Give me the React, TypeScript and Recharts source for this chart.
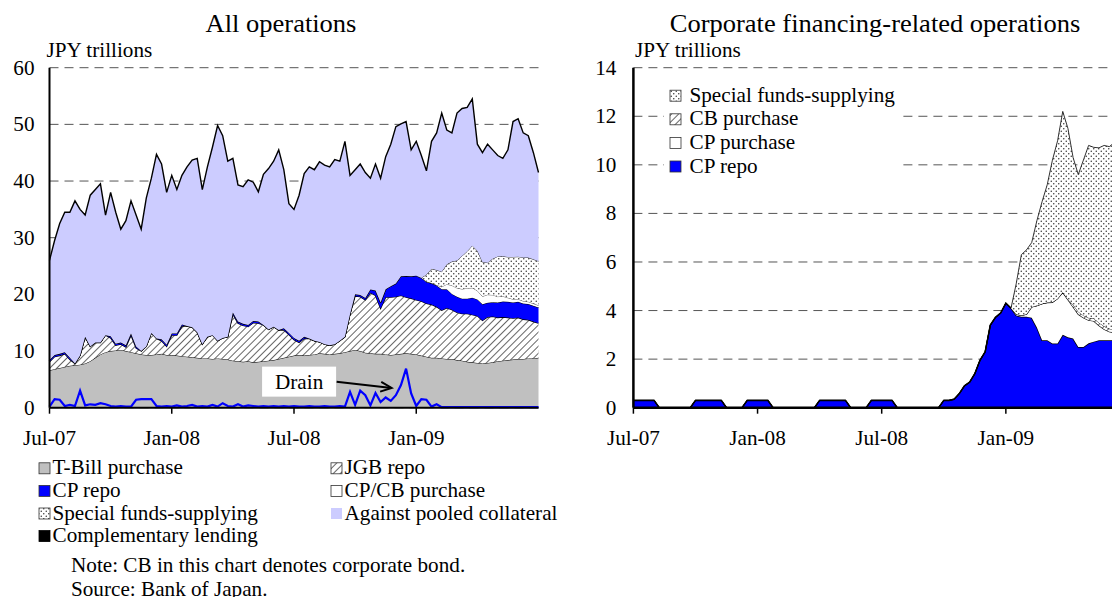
import {
  Area,
  ComposedChart,
  CartesianGrid,
  Line,
  ReferenceDot,
  ReferenceLine,
  XAxis,
  YAxis,
} from "recharts";

const SERIF = '"Liberation Serif", "Times New Roman", Times, serif';
const SX = 1.06; // the source figure is slightly stretched horizontally
const FS = 20;
const STEP = 0.25; // months between samples (roughly weekly), 0 = Jul-07

const xTicks = [0, 6, 12, 18];
const xTickLabels = ["Jul-07", "Jan-08", "Jul-08", "Jan-09"];
const leftYTicks = [0, 10, 20, 30, 40, 50, 60];
const rightYTicks = [0, 2, 4, 6, 8, 10, 12, 14];

// JPY trillions, weekly-ish readings Jul-07 .. Jul-09
const tBill = [
  6.6, 6.8, 7.0, 7.2, 7.4, 7.5, 7.6, 7.8, 8.2, 8.8, 9.4, 9.8, 10.0,
  10.1, 10.2, 10.0, 9.8, 9.6, 9.4, 9.3, 9.3, 9.4, 9.5, 9.3, 9.3,
  9.2, 9.1, 9.0, 8.9, 8.8, 8.7, 8.7, 8.6, 8.7, 8.6, 8.5, 8.3,
  8.2, 8.1, 8.2, 8.0, 8.1, 8.2, 8.3, 8.4, 8.6, 8.8, 9.0, 9.2,
  9.3, 9.2, 9.3, 9.4, 9.6, 9.5, 9.4, 9.5, 9.6, 9.8, 10.0, 10.2,
  10.0, 9.7, 9.6, 9.5, 9.5, 9.4, 9.3, 9.4, 9.5, 9.6, 9.5, 9.4,
  9.2, 9.0, 8.8, 8.8, 8.7, 8.6, 8.6, 8.4, 8.3, 8.1, 8.0, 7.9,
  7.8, 7.9, 8.0, 8.2, 8.3, 8.4, 8.5, 8.6, 8.6, 8.7, 8.7, 8.8,
];

const jgbRepo = [
  1.5, 2.2, 2.2, 2.3, 1.1, 0.3, 1.6, 4.7, 2.6, 2.7, 2.1, 3.0, 2.3,
  0.9, 1.0, 0.7, 3.0, 0.9, 0.6, 1.5, 3.9, 2.8, 2.3, 1.5, 3.5,
  3.6, 5.3, 5.4, 5.3, 4.5, 2.5, 3.8, 4.2, 3.1, 3.7, 4.0, 8.2,
  6.7, 6.4, 6.1, 7.0, 6.8, 6.4, 5.5, 5.9, 5.1, 4.9, 3.9, 2.8,
  2.2, 3.0, 2.9, 2.4, 2.0, 1.7, 1.6, 1.7, 2.2, 2.7, 6.5, 9.5,
  9.6, 9.3, 10.7, 10.3, 8.0, 10.1, 10.2, 10.2, 10.3, 9.9, 9.8, 9.6,
  9.6, 9.4, 9.4, 9.0, 8.5, 9.0, 8.7, 8.4, 8.3, 8.5, 8.4, 8.3,
  7.6, 8.1, 8.1, 7.7, 7.7, 7.5, 7.3, 7.3, 7.0, 6.8, 6.5, 6.1,
];

const cpRepo = [
  0.3, 0.3, 0.3, 0.3, 0.3, 0, 0, 0, 0, 0, 0, 0, 0.3,
  0.3, 0.3, 0.3, 0.3, 0.3, 0, 0, 0, 0, 0.3, 0.3, 0.3,
  0.3, 0.3, 0, 0, 0, 0, 0, 0, 0, 0, 0, 0.3,
  0.3, 0.3, 0.3, 0.3, 0.3, 0, 0, 0, 0, 0.3, 0.3, 0.3,
  0.3, 0.3, 0, 0, 0, 0, 0, 0, 0, 0, 0, 0.3,
  0.3, 0.35, 0.58, 0.9, 1.05, 1.4, 1.95, 2.3, 3.4, 3.72, 3.9, 4.3,
  4.1, 3.8, 3.75, 3.75, 3.7, 3.3, 2.78, 2.78, 2.64, 2.64, 3.0, 2.9,
  2.85, 2.5, 2.5, 2.65, 2.72, 2.78, 2.78, 2.78, 2.78, 2.78, 2.78, 2.78,
];

const cpPurchase = [
  0, 0, 0, 0, 0, 0, 0, 0, 0, 0, 0, 0, 0,
  0, 0, 0, 0, 0, 0, 0, 0, 0, 0, 0, 0,
  0, 0, 0, 0, 0, 0, 0, 0, 0, 0, 0, 0,
  0, 0, 0, 0, 0, 0, 0, 0, 0, 0, 0, 0,
  0, 0, 0, 0, 0, 0, 0, 0, 0, 0, 0, 0,
  0, 0, 0, 0, 0, 0, 0, 0, 0, 0, 0, 0,
  0, 0.05, 0.05, 0.1, 0.45, 0.9, 1.5, 1.55, 1.7, 1.85, 1.75, 1.55,
  1.3, 1.35, 1.2, 0.95, 0.85, 0.6, 0.45, 0.35, 0.32, 0.3, 0.28, 0.26,
];

const cbPurchase = [
  0, 0, 0, 0, 0, 0, 0, 0, 0, 0, 0, 0, 0,
  0, 0, 0, 0, 0, 0, 0, 0, 0, 0, 0, 0,
  0, 0, 0, 0, 0, 0, 0, 0, 0, 0, 0, 0,
  0, 0, 0, 0, 0, 0, 0, 0, 0, 0, 0, 0,
  0, 0, 0, 0, 0, 0, 0, 0, 0, 0, 0, 0,
  0, 0, 0, 0, 0, 0, 0, 0, 0, 0, 0, 0,
  0, 0, 0, 0, 0, 0, 0, 0, 0, 0, 0, 0,
  0.1, 0.1, 0.1, 0.1, 0.1, 0.12, 0.12, 0.12, 0.12, 0.12, 0.12, 0.12,
];

const specialFunds = [
  0, 0, 0, 0, 0, 0, 0, 0, 0, 0, 0, 0, 0,
  0, 0, 0, 0, 0, 0, 0, 0, 0, 0, 0, 0,
  0, 0, 0, 0, 0, 0, 0, 0, 0, 0, 0, 0,
  0, 0, 0, 0, 0, 0, 0, 0, 0, 0, 0, 0,
  0, 0, 0, 0, 0, 0, 0, 0, 0, 0, 0, 0,
  0, 0, 0, 0, 0, 0, 0, 0, 0, 0, 0, 0,
  0, 1.25, 2.5, 2.65, 2.65, 3.5, 4.2, 4.85, 5.85, 6.5, 7.45, 7.05,
  6.05, 5.65, 6.4, 7.1, 7.05, 7.2, 7.45, 7.5, 7.7, 7.8, 7.8, 7.8,
];

// total of all operations (top of the stack)
const totalOutstanding = [
  26, 29.5, 32.5, 34.5, 34.5, 36.5, 35, 34, 37.5, 38.5, 39.5, 34, 38,
  34.5, 31.5, 33, 36.5, 34, 31.5, 37, 40.5, 44.7, 43, 38, 41,
  38.5, 41, 42.5, 43.7, 44, 38.5, 42.5, 46, 49.8, 48, 43.5, 44,
  39.3, 39, 40.2, 39.8, 38.1, 41.2, 42.2, 43.5, 45.5, 42, 36, 35,
  37.5, 41.3, 42.5, 42, 43.4, 42.8, 42.5, 43.8, 43.5, 47, 41, 42,
  43, 41.5, 40.5, 43, 40.5, 44.3, 46.5, 49.6, 50.1, 50.5, 45.5, 47,
  44.5, 41.8, 47, 48.5, 52, 49, 48.5, 52, 52.8, 53, 54.5, 46.5,
  45, 46.5, 45.5, 44.5, 44, 45.5, 50.5, 51, 48.5, 48, 45, 41.5,
];

// fund-absorbing ("drain") line
const drain = [
  0.2, 1.5, 1.4, 0.3, 0.5, 0.3, 3.0, 0.4, 0.6, 0.5, 0.8, 0.6, 0.3,
  0.2, 0.3, 0.2, 0.2, 1.4, 1.5, 1.5, 1.5, 0.3, 0.2, 0.3, 0.2,
  0.4, 0.2, 0.3, 0.5, 0.2, 0.3, 0.2, 0.5, 0.2, 0.8, 0.3, 0.2,
  0.6, 0.2, 0.4, 0.3, 0.2, 0.3, 0.2, 0.3, 0.2, 0.3, 0.2, 0.3,
  0.2, 0.2, 0.3, 0.2, 0.2, 0.3, 0.2, 0.2, 0.3, 0.2, 2.8, 0.5,
  3.0, 2.2, 0.4, 2.6, 1.0, 1.8, 1.2, 2.2, 4.0, 6.9, 2.5, 0.3,
  1.5, 1.4, 0.2, 0.6, 0.1, 0.1, 0.1, 0.1, 0.1, 0.1, 0.1, 0.1,
  0.1, 0.1, 0.1, 0.1, 0.1, 0.1, 0.1, 0.1, 0.1, 0.1, 0.1, 0.1,
];

const drainLabelAt = { x: 12.25, y: 4.6 };
const drainArrow = [
  { x: 14.09, y: 4.59 },
  { x: 16.79, y: 3.48 },
];

const rows = tBill.map((v, i) => {
  const cpcb = cpPurchase[i] + cbPurchase[i];
  const below = v + jgbRepo[i] + cpRepo[i] + cpcb + specialFunds[i];
  return {
    m: i * STEP,
    tBill: v,
    jgbRepo: jgbRepo[i],
    cpRepo: cpRepo[i],
    cpcb,
    cpPurchase: cpPurchase[i],
    cbPurchase: cbPurchase[i],
    special: specialFunds[i],
    pooled: Math.max(0, totalOutstanding[i] - below),
    drain: drain[i],
  };
});

const leftLegend = [
  { label: "T-Bill purchase", fill: "#c0c0c0", stroke: "#333" },
  { label: "JGB repo", fill: "url(#hatch)", stroke: "#333" },
  { label: "CP repo", fill: "#0000ff", stroke: "#333" },
  { label: "CP/CB purchase", fill: "#ffffff", stroke: "#333" },
  { label: "Special funds-supplying", fill: "url(#dots)", stroke: "#333" },
  { label: "Against pooled collateral", fill: "#ccccff", stroke: "none" },
  { label: "Complementary lending", fill: "#000000", stroke: "#000" },
];

const rightLegend = [
  { label: "Special funds-supplying", fill: "url(#dots)", stroke: "#333" },
  { label: "CB purchase", fill: "url(#hatch)", stroke: "#333" },
  { label: "CP purchase", fill: "#ffffff", stroke: "#333" },
  { label: "CP repo", fill: "#0000ff", stroke: "#333" },
];

function SText({ x, y, size = FS, anchor = "start", children }: any) {
  return (
    <text
      transform={`translate(${x},${y}) scale(${SX},1)`}
      textAnchor={anchor}
      fontFamily={SERIF}
      fontSize={size}
      fill="#000"
    >
      {children}
    </text>
  );
}

function XTick({ x, y, payload }: any) {
  return <SText x={x} y={y} anchor="middle">{xTickLabels[xTicks.indexOf(payload.value)]}</SText>;
}

function YTick({ x, y, payload }: any) {
  return <SText x={x} y={y + 7} anchor="end">{payload.value}</SText>;
}

function DrainBox({ cx, cy }: any) {
  return (
    <g>
      <rect x={cx - 37} y={cy - 15} width={74} height={30} fill="#fff" />
      <SText x={cx} y={cy + 7} anchor="middle">Drain</SText>
    </g>
  );
}

function Arrow({ x1, y1, x2, y2 }: any) {
  const a = Math.atan2(y2 - y1, x2 - x1);
  const h = 12;
  const w = 0.42;
  const p1 = `${x2 - h * Math.cos(a - w)},${y2 - h * Math.sin(a - w)}`;
  const p2 = `${x2 - h * Math.cos(a + w)},${y2 - h * Math.sin(a + w)}`;
  return (
    <g>
      <line x1={x1} y1={y1} x2={x2} y2={y2} stroke="#000" strokeWidth={2} />
      <polyline points={`${p1} ${x2},${y2} ${p2}`} fill="none" stroke="#000" strokeWidth={2} />
    </g>
  );
}

const frame = { stroke: "#000", strokeWidth: 2 };

function LeftChart() {
  return (
    <ComposedChart width={560} height={460} data={rows} margin={{ top: 67.7, right: 21.5, bottom: 0, left: 0 }}>
      <CartesianGrid vertical={false} stroke="#555" strokeDasharray="9 6" />
      <Area dataKey="tBill" stackId="s" type="linear" fill="#c0c0c0" fillOpacity={1} stroke="#000" strokeWidth={1} isAnimationActive={false} />
      <Area dataKey="jgbRepo" stackId="s" type="linear" fill="url(#hatch)" fillOpacity={1} stroke="#000" strokeWidth={1.2} isAnimationActive={false} />
      <Area dataKey="cpRepo" stackId="s" type="linear" fill="#0000ff" fillOpacity={1} stroke="#000" strokeWidth={1} isAnimationActive={false} />
      <Area dataKey="cpcb" stackId="s" type="linear" fill="#ffffff" fillOpacity={1} stroke="#000" strokeWidth={0.6} isAnimationActive={false} />
      <Area dataKey="special" stackId="s" type="linear" fill="url(#dots)" fillOpacity={1} stroke="#000" strokeWidth={0.8} isAnimationActive={false} />
      <Area dataKey="pooled" stackId="s" type="linear" fill="#ccccff" fillOpacity={1} stroke="#000" strokeWidth={1.4} isAnimationActive={false} />
      <Line dataKey="drain" type="linear" stroke="#0000ff" strokeWidth={2.2} dot={false} isAnimationActive={false} />
      <ReferenceDot x={drainLabelAt.x} y={drainLabelAt.y} r={0} shape={DrainBox} />
      <ReferenceLine segment={drainArrow} shape={Arrow} />
      <XAxis dataKey="m" type="number" domain={[0, 24]} ticks={xTicks} tick={XTick} height={52.3}
        axisLine={frame} tickLine={{ stroke: "#000", strokeWidth: 1.5 }} tickSize={6} tickMargin={31} interval={0} />
      <XAxis xAxisId="top" orientation="top" type="number" domain={[0, 24]} height={0} tick={false} tickLine={false} axisLine={frame} />
      <YAxis type="number" domain={[0, 60]} ticks={leftYTicks} tick={YTick} width={49.5}
        axisLine={frame} tickLine={false} tickSize={0} tickMargin={15} interval={0} />
      <YAxis yAxisId="right" orientation="right" type="number" domain={[0, 60]} width={0} tick={false} tickLine={false} axisLine={frame} />
    </ComposedChart>
  );
}

function RightChart() {
  return (
    <ComposedChart width={600} height={460} data={rows} margin={{ top: 67.7, right: 30, bottom: 0, left: 0 }}>
      <CartesianGrid vertical={false} stroke="#555" strokeDasharray="9 6" />
      <Area dataKey="cpRepo" stackId="r" type="linear" fill="#0000ff" fillOpacity={1} stroke="#000" strokeWidth={1.5} isAnimationActive={false} />
      <Area dataKey="cpPurchase" stackId="r" type="linear" fill="#ffffff" fillOpacity={1} stroke="#000" strokeWidth={1.2} isAnimationActive={false} />
      <Area dataKey="cbPurchase" stackId="r" type="linear" fill="url(#hatch)" fillOpacity={1} stroke="#000" strokeWidth={0.8} isAnimationActive={false} />
      <Area dataKey="special" stackId="r" type="linear" fill="url(#dots)" fillOpacity={1} stroke="#000" strokeWidth={0.8} isAnimationActive={false} />
      <XAxis dataKey="m" type="number" domain={[0, 24]} ticks={xTicks} tick={XTick} height={52.3}
        axisLine={{ stroke: "#000", strokeWidth: 2.5 }} tickLine={{ stroke: "#000", strokeWidth: 1.5 }} tickSize={6} tickMargin={31} interval={0} />
      <XAxis xAxisId="top" orientation="top" type="number" domain={[0, 24]} height={0} tick={false} tickLine={false} axisLine={frame} />
      <YAxis type="number" domain={[0, 14]} ticks={rightYTicks} tick={YTick} width={73.4}
        axisLine={{ stroke: "#000", strokeWidth: 2.5 }} tickLine={false} tickSize={0} tickMargin={17} interval={0} />
    </ComposedChart>
  );
}

function LegendBox({ x, y, fill, stroke }: any) {
  return <rect x={x} y={y} width={11} height={11} fill={fill} stroke={stroke} strokeWidth={0.8} />;
}

export default function App() {
  return (
    <div style={{ position: "relative", width: 1120, height: 605, margin: -8, overflow: "hidden", background: "#fff" }}>
      <svg width={0} height={0} style={{ position: "absolute" }}>
        <defs>
          <pattern id="hatch" width={5} height={5} patternUnits="userSpaceOnUse" patternTransform="rotate(45)">
            <rect width={5} height={5} fill="#fff" />
            <line x1={0} y1={0} x2={0} y2={5} stroke="#555" strokeWidth={1.8} />
          </pattern>
          <pattern id="dots" width={5} height={5} patternUnits="userSpaceOnUse">
            <rect width={5} height={5} fill="#fff" />
            <circle cx={1.25} cy={1.25} r={0.75} fill="#333" />
            <circle cx={3.75} cy={3.75} r={0.75} fill="#333" />
          </pattern>
        </defs>
      </svg>
      <div style={{ position: "absolute", left: 0, top: 0 }}>
        <LeftChart />
      </div>
      <div style={{ position: "absolute", left: 560, top: 0 }}>
        <RightChart />
      </div>
      <svg width={1120} height={605} style={{ position: "absolute", left: 0, top: 0, pointerEvents: "none" }}>
        <SText x={281} y={32.3} size={25} anchor="middle">All operations</SText>
        <SText x={875} y={31.7} size={25} anchor="middle">Corporate financing-related operations</SText>
        <SText x={46.5} y={57.3}>JPY trillions</SText>
        <SText x={635} y={56.7}>JPY trillions</SText>

        <rect x={664} y={80} width={238} height={100} fill="#fff" />
        {rightLegend.map((d, i) => {
          const base = 101.7 + i * 23.6;
          return (
            <g key={d.label}>
              <LegendBox x={670} y={base - 11.5} fill={d.fill} stroke={d.stroke} />
              <SText x={689.5} y={base}>{d.label}</SText>
            </g>
          );
        })}

        {leftLegend.map((d, i) => {
          const col = i % 2;
          const row = Math.floor(i / 2);
          const base = 474.3 + row * 22.6;
          const bx = col === 0 ? 39 : 331;
          return (
            <g key={d.label}>
              <LegendBox x={bx} y={base - 11.5} fill={d.fill} stroke={d.stroke} />
              <SText x={bx + 13.5} y={base}>{d.label}</SText>
            </g>
          );
        })}

        <SText x={71} y={571.7}>Note: CB in this chart denotes corporate bond.</SText>
        <SText x={71} y={596}>Source: Bank of Japan.</SText>
      </svg>
    </div>
  );
}
